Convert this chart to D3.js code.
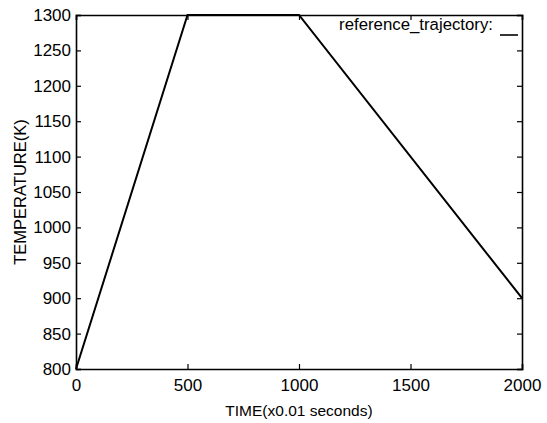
<!DOCTYPE html>
<html>
<head>
<meta charset="utf-8">
<script src="https://cdn.jsdelivr.net/npm/d3@7"></script>
<style>
  body { margin: 0; background: #fff; }
  text { font-family: "Liberation Sans", Arial, sans-serif; fill: #000; }
</style>
</head>
<body>
<div id="chart"></div>
<script>
// data
var timeValues = [0, 500, 1000, 2000];
var tempValues = [800, 1300, 1300, 900];
var xTicks = [0, 500, 1000, 1500, 2000];
var yTicks = [800, 850, 900, 950, 1000, 1050, 1100, 1150, 1200, 1250, 1300];
var seriesName = "reference_trajectory:";

var margin = {top: 15, right: 25, bottom: 54, left: 76};
var width = 547 - margin.left - margin.right,
    height = 423 - margin.top - margin.bottom;

var svg = d3.select("#chart").append("svg")
    .attr("width", 547)
    .attr("height", 423)
    .append("g")
    .attr("transform", "translate(" + margin.left + "," + margin.top + ")");

var x = d3.scaleLinear().domain([0, 2000]).range([0, width]);
var y = d3.scaleLinear().domain([800, 1300]).range([height, 0]);

var data = timeValues.map(function(t, i) { return {t: t, v: tempValues[i]}; });

// axes, ticks inward like matlab
var xAxis = d3.axisBottom(x).tickValues(xTicks).tickSize(-5).tickPadding(8).tickFormat(d3.format("d"));
var yAxis = d3.axisLeft(y).tickValues(yTicks).tickSize(-5).tickPadding(5).tickFormat(d3.format("d"));

var gx = svg.append("g").attr("class", "axis")
    .attr("transform", "translate(0," + height + ")")
    .call(xAxis);
var gy = svg.append("g").attr("class", "axis").call(yAxis);

svg.append("g").attr("class", "axis")
    .call(d3.axisTop(x).tickValues(xTicks).tickSize(-5).tickFormat(""));
svg.append("g").attr("class", "axis")
    .attr("transform", "translate(" + width + ",0)")
    .call(d3.axisRight(y).tickValues(yTicks).tickSize(-5).tickFormat(""));

svg.selectAll(".axis path").attr("stroke", "#000").attr("stroke-width", 1.6);
svg.selectAll(".axis line").attr("stroke", "#000").attr("stroke-width", 1.2);
svg.selectAll(".axis text").style("font-size", "17px").attr("fill", "#000");
gx.selectAll("text").attr("dy", "0.8em");

// the trajectory
var line = d3.line()
    .x(function(d) { return x(d.t); })
    .y(function(d) { return y(d.v); });

svg.append("path")
    .datum(data)
    .attr("fill", "none")
    .attr("stroke", "#000")
    .attr("stroke-width", 2)
    .attr("d", line);

// legend
svg.append("text")
    .attr("x", width - 29)
    .attr("y", 15)
    .attr("text-anchor", "end")
    .style("font-size", "16.8px")
    .text(seriesName);
svg.append("line")
    .attr("x1", width - 22).attr("x2", width - 4)
    .attr("y1", 20).attr("y2", 20)
    .attr("stroke", "#000").attr("stroke-width", 1.6);

// axis labels
svg.append("text")
    .attr("x", width / 2)
    .attr("y", height + 47)
    .attr("text-anchor", "middle")
    .style("font-size", "15.5px")
    .text("TIME(x0.01 seconds)");

svg.append("text")
    .attr("transform", "translate(" + (-50) + "," + (height / 2) + ") rotate(-90)")
    .attr("text-anchor", "middle")
    .style("font-size", "16.5px")
    .text("TEMPERATURE(K)");
</script>
</body>
</html>
